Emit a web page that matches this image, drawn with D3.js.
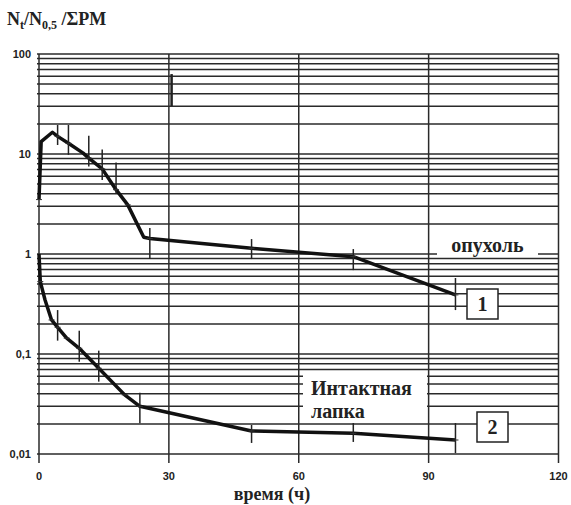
<!DOCTYPE html>
<html>
  <head>
    <meta charset="utf-8">
    <script src="https://d3js.org/d3.v7.min.js"></script>
    <style>
      body { margin: 0px; background: #ffffff; }
      svg { display: block; }
      .tick-label { font-family: 'Liberation Sans', Arial, sans-serif; font-size: 11px; font-weight: bold; fill: #222; }
      .serif { font-family: 'Liberation Serif', 'Times New Roman', serif; font-weight: bold; fill: #222; }
    </style>
  </head>
  <body>
    <div id="chart"></div>
    <script>

      // tick labels
      const xTicks = [0, 30, 60, 90, 120];
      const yTicks = [0.01, 0.1, 1, 10, 100];
      const yTickLabels = ['0,01', '0,1', '1', '10', '100'];

      // series 1 : опухоль
      const tumorT = [0, 0.5, 3.1, 4.3, 6.8, 10.2, 11.5, 14.6, 17.8, 20.5, 24.2, 25.6, 49.1, 72.6, 96.2];
      const tumorV = [3.5, 13.3, 16.5, 15.0, 12.8, 10.2, 9.1, 7.1, 4.4, 3.1, 1.47, 1.43, 1.14, 0.94, 0.39];
      const tumorLo = [null, null, null, 12.3, 9.8, null, 7.5, 5.5, 4.0, null, null, 0.89, 0.89, 0.69, 0.275];
      const tumorHi = [null, null, null, 19.5, 19.5, null, 15.2, 11.1, 8.2, null, null, 1.82, 1.41, 1.12, 0.575];
      const tumorMark = [1, 0, 0, 1, 1, 0, 1, 1, 1, 1, 0, 1, 1, 1, 1];

      // series 2 : интактная лапка
      const pawT = [0, 0.3, 1.4, 2.9, 4.3, 6.4, 9.3, 13.8, 19.8, 23.3, 49.1, 72.6, 96.2];
      const pawV = [1.0, 0.53, 0.347, 0.219, 0.185, 0.144, 0.114, 0.072, 0.039, 0.030, 0.017, 0.0161, 0.0138];
      const pawLo = [null, null, null, null, 0.136, null, 0.0837, 0.0529, null, 0.0203, 0.0129, 0.0132, 0.0102];
      const pawHi = [null, null, null, null, 0.275, null, 0.171, 0.108, null, 0.041, 0.0195, 0.0204, 0.0204];
      const pawMark = [0, 1, 0, 1, 1, 1, 1, 1, 1, 1, 1, 1, 1];

      // stray bar near 30 h
      const strayT = [30.4];
      const strayLo = [30.2];
      const strayHi = [63];

      const svg = d3.select('#chart').append('svg')
        .attr('width', 571)
        .attr('height', 505);

      const x = d3.scaleLinear().domain([0, 120]).range([39, 558.5]);
      const y = d3.scaleLog().domain([0.01, 100]).range([454, 54]);

      const gridColor = '#2a2a2a';

      // horizontal grid (log minor lines)
      svg.append('g').selectAll('line').data(y.ticks())
        .enter().append('line')
          .attr('x1', x(0) - 2)
          .attr('x2', x(120))
          .attr('y1', d => y(d))
          .attr('y2', d => y(d))
          .attr('stroke', gridColor)
          .attr('stroke-width', 1.5);

      // vertical grid
      svg.append('g').selectAll('line').data(xTicks)
        .enter().append('line')
          .attr('x1', d => x(d))
          .attr('x2', d => x(d))
          .attr('y1', y(100))
          .attr('y2', y(0.01) + 9)
          .attr('stroke', gridColor)
          .attr('stroke-width', 1.5);

      // label backgrounds
      svg.append('rect').attr('x', 437).attr('y', 230).attr('width', 101).attr('height', 26).attr('fill', '#fff');
      svg.append('rect').attr('x', 303).attr('y', 373).attr('width', 124).attr('height', 47).attr('fill', '#fff');

      // axis labels
      svg.append('g').selectAll('text').data(xTicks)
        .enter().append('text')
          .attr('class', 'tick-label')
          .attr('x', d => x(d))
          .attr('y', 479.5)
          .attr('text-anchor', 'middle')
          .text(d => d);

      svg.append('g').selectAll('text').data(yTicks)
        .enter().append('text')
          .attr('class', 'tick-label')
          .attr('x', 31)
          .attr('y', d => y(d) + 4)
          .attr('text-anchor', 'end')
          .text((d, i) => yTickLabels[i]);

      const title = svg.append('text')
        .attr('class', 'serif')
        .attr('x', 7)
        .attr('y', 25)
        .style('font-size', '18px');
      title.append('tspan').text('N');
      title.append('tspan').attr('dy', 4).style('font-size', '12px').text('t');
      title.append('tspan').attr('dy', -4).text('/N');
      title.append('tspan').attr('dy', 4).style('font-size', '12px').text('0,5');
      title.append('tspan').attr('dy', -4).text(' /ΣPM');

      svg.append('text')
        .attr('class', 'serif')
        .attr('x', 272)
        .attr('y', 500)
        .attr('text-anchor', 'middle')
        .style('font-size', '18px')
        .text('время (ч)');

      svg.append('text')
        .attr('class', 'serif')
        .attr('x', 487.5)
        .attr('y', 252)
        .attr('text-anchor', 'middle')
        .style('font-size', '20px')
        .text('опухоль');

      svg.append('text')
        .attr('class', 'serif')
        .attr('x', 311)
        .attr('y', 395)
        .style('font-size', '20px')
        .text('Интактная');
      svg.append('text')
        .attr('class', 'serif')
        .attr('x', 311)
        .attr('y', 418)
        .style('font-size', '20px')
        .text('лапка');

      // series
      const line = d3.line()
        .x(d => x(d.t))
        .y(d => y(d.v));

      function drawSeries(T, V, Lo, Hi, Mark) {
        const data = T.map((t, i) => ({ t: t, v: V[i], lo: Lo[i], hi: Hi[i], m: Mark[i] }));
        const g = svg.append('g');
        g.append('path')
          .datum(data)
          .attr('d', line)
          .attr('fill', 'none')
          .attr('stroke', '#111')
          .attr('stroke-width', 3.5)
          .attr('stroke-linejoin', 'round');
        g.selectAll('line.bar').data(data.filter(d => d.lo !== null))
          .enter().append('line')
            .attr('class', 'bar')
            .attr('x1', d => x(d.t))
            .attr('x2', d => x(d.t))
            .attr('y1', d => y(d.hi))
            .attr('y2', d => y(d.lo))
            .attr('stroke', '#222')
            .attr('stroke-width', 1.5);
        g.selectAll('line.mark').data(data.filter(d => d.m))
          .enter().append('line')
            .attr('class', 'mark')
            .attr('x1', d => x(d.t) - 3)
            .attr('x2', d => x(d.t) + 3)
            .attr('y1', d => y(d.v))
            .attr('y2', d => y(d.v))
            .attr('stroke', '#333')
            .attr('stroke-width', 1);
      }

      drawSeries(tumorT, tumorV, tumorLo, tumorHi, tumorMark);
      drawSeries(pawT, pawV, pawLo, pawHi, pawMark);

      svg.append('g').selectAll('line').data(strayT)
        .enter().append('line')
          .attr('x1', d => x(d) + 1)
          .attr('x2', d => x(d) + 1)
          .attr('y1', (d, i) => y(strayHi[i]))
          .attr('y2', (d, i) => y(strayLo[i]))
          .attr('stroke', '#222')
          .attr('stroke-width', 2.5);

      // numbered boxes
      const boxes = [
        { label: '1', x: 467, y: 289 },
        { label: '2', x: 477, y: 412 }
      ];
      const bg = svg.append('g').selectAll('g').data(boxes)
        .enter().append('g');
      bg.append('rect')
        .attr('x', d => d.x)
        .attr('y', d => d.y)
        .attr('width', 31)
        .attr('height', 30)
        .attr('fill', '#fff')
        .attr('stroke', '#222')
        .attr('stroke-width', 1.5);
      bg.append('text')
        .attr('class', 'serif')
        .attr('x', d => d.x + 15.5)
        .attr('y', d => d.y + 22)
        .attr('text-anchor', 'middle')
        .style('font-size', '20px')
        .text(d => d.label);

    </script>
  </body>
</html>
